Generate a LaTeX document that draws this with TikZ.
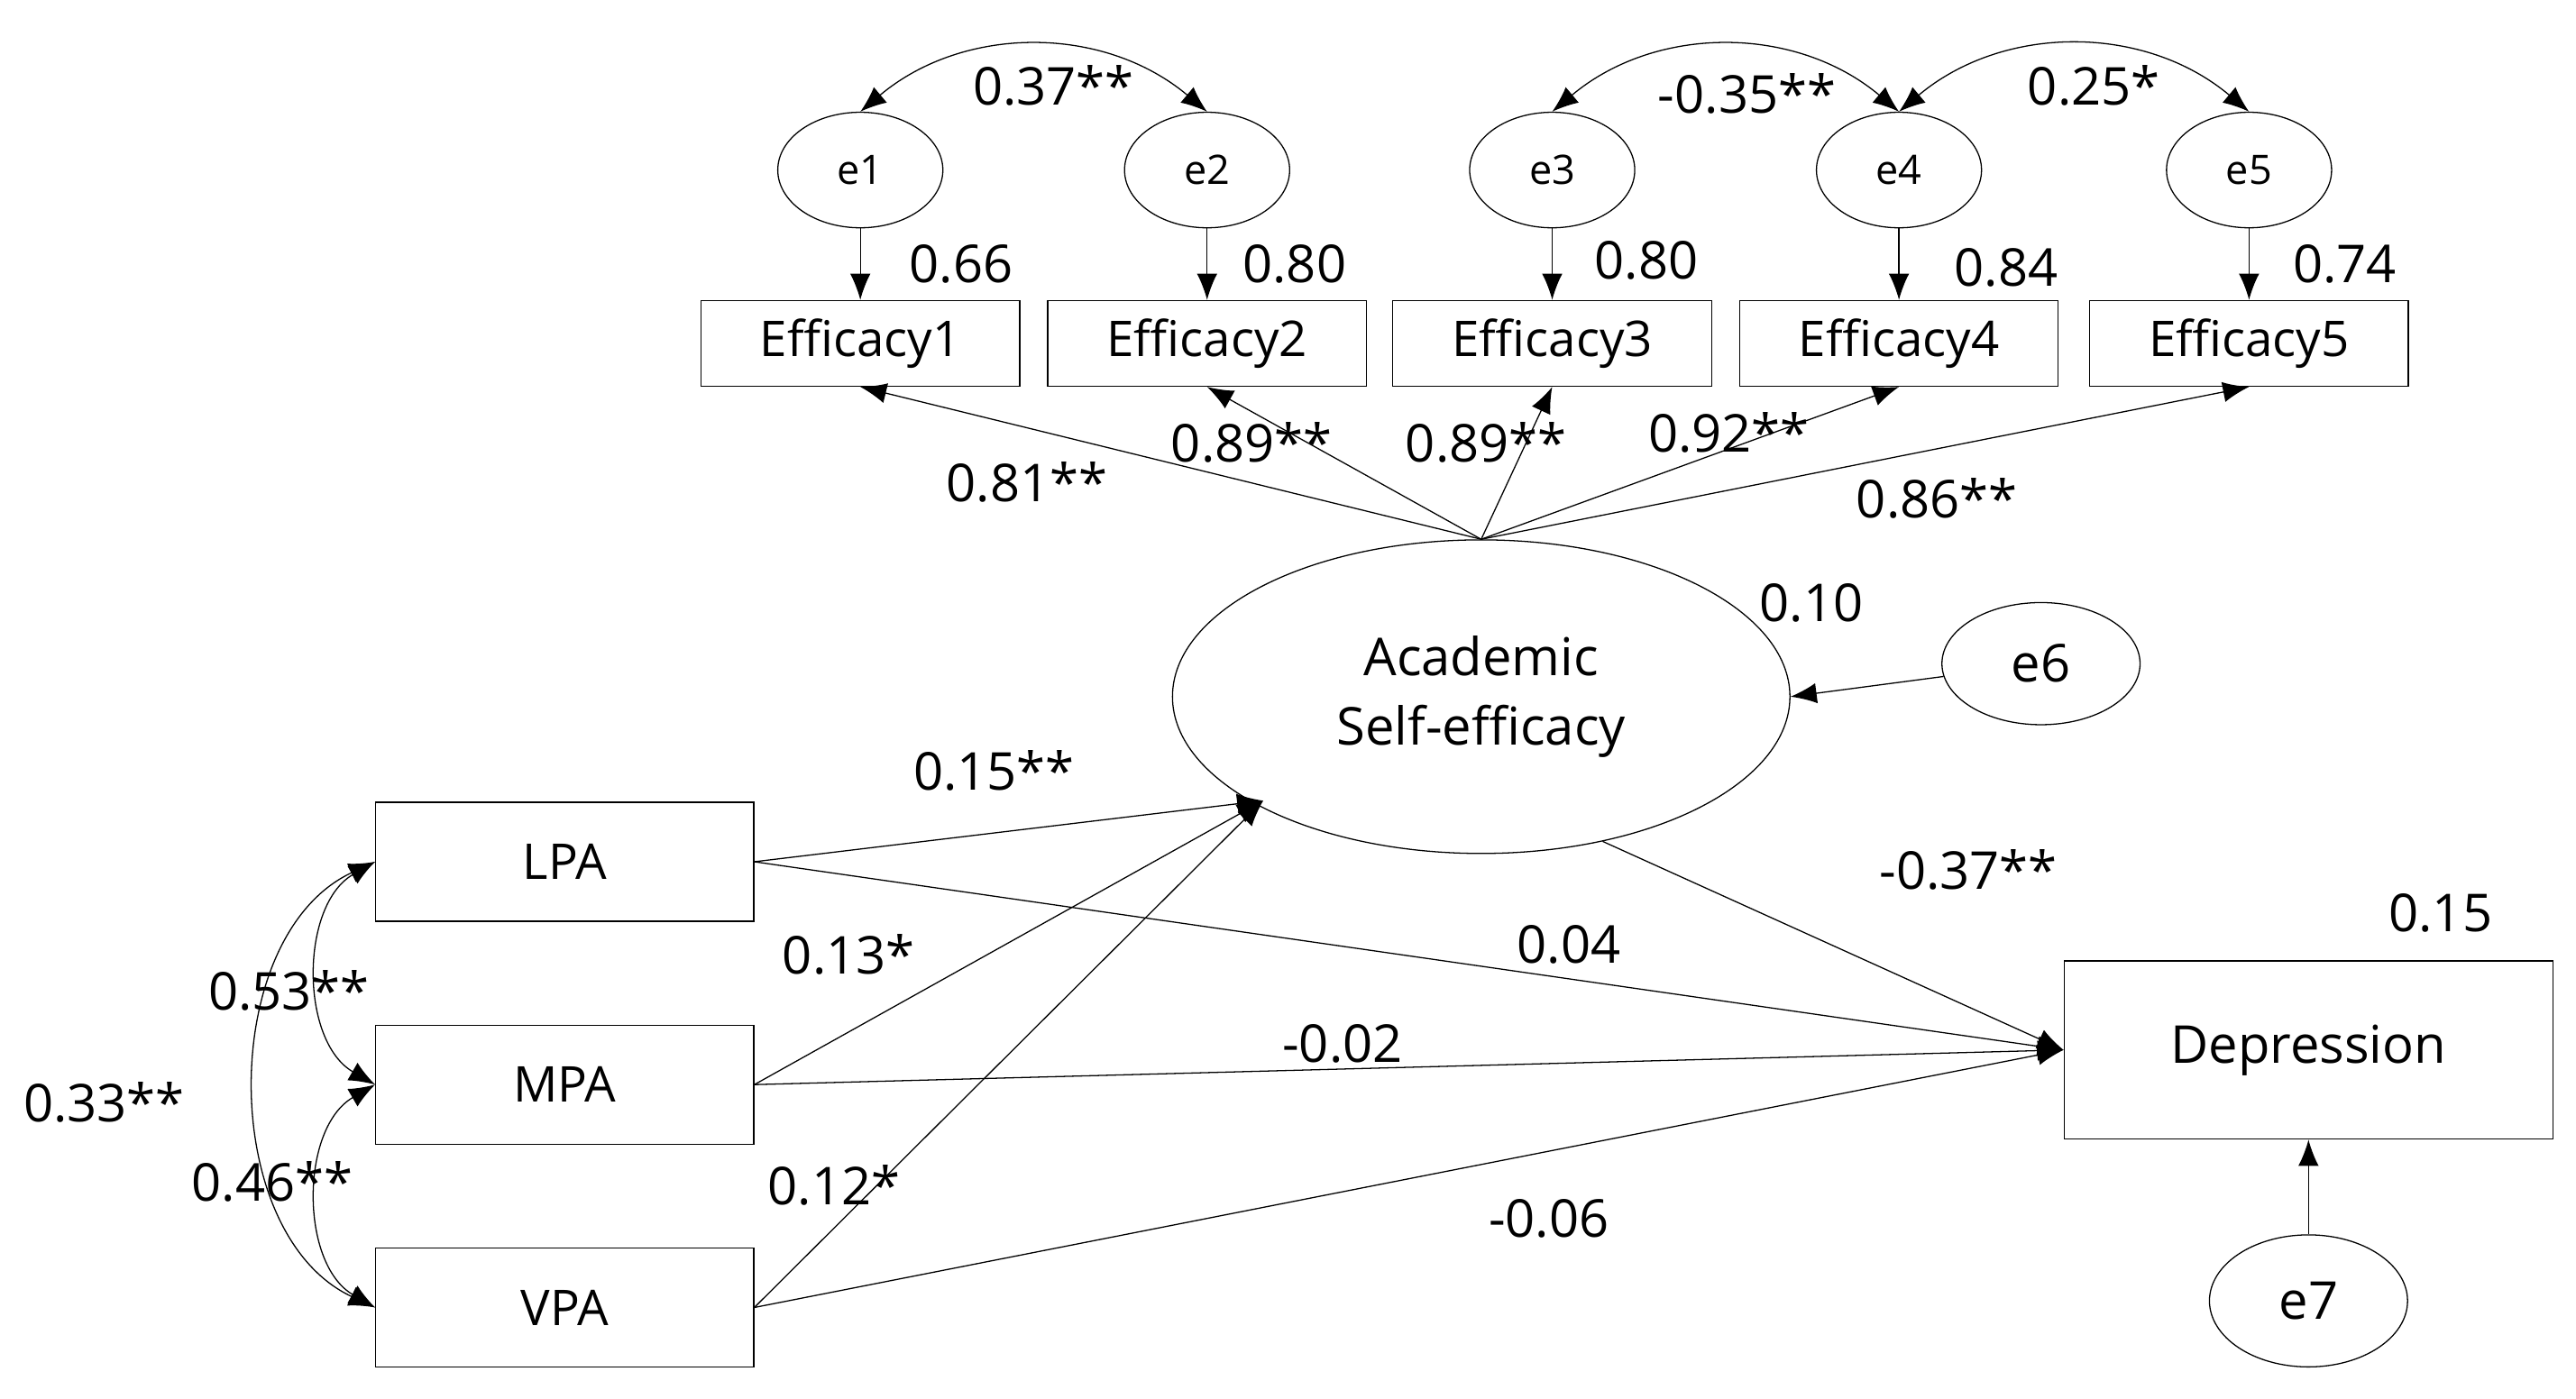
\documentclass[tikz,border=0pt]{standalone}
\usepackage{fontspec}
\setmainfont{Open Sans}
\usetikzlibrary{arrows.meta,shapes.geometric}
\tikzset{
  obs/.style={draw, rectangle, minimum width=3.86cm, minimum height=1.04cm, font=\fontsize{17}{20}\selectfont},
  err/.style={draw, ellipse, minimum width=2cm, minimum height=1.4cm, inner sep=0pt, font=\fontsize{14}{16}\selectfont},
  lab/.style={font=\fontsize{18}{20}\selectfont},
  path/.style={-{Latex[length=9pt,width=7pt]}, thin},
  cov/.style={{Latex[length=9pt,width=7pt]}-{Latex[length=9pt,width=7pt]}, thin}
}
\begin{document}
\begin{tikzpicture}[x=0.02cm,y=-0.02cm]
\useasboundingbox (0,0) rectangle (1560,847);
% indicators and their errors
\foreach \i/\x in {1/521,2/731,3/940,4/1150,5/1362}{
  \node[err] (e\i) at (\x,103) {e\i};
  \node[obs] (eff\i) at (\x,208) {Efficacy\i};
  \draw[path] (e\i) -- (eff\i);
}
\node[lab] at (582,160) {0.66};
\node[lab] at (784,160) {0.80};
\node[lab] at (997,158) {0.80};
\node[lab] at (1215,162) {0.84};
\node[lab] at (1420,160) {0.74};
\draw[cov] (e1.north) to[bend left=40] (e2.north);
\draw[cov] (e3.north) to[bend left=40] (e4.north);
\draw[cov] (e4.north) to[bend left=40] (e5.north);
\node[lab] at (638,52) {0.37**};
\node[lab] at (1058,57) {-0.35**};
\node[lab] at (1268,52) {0.25*};
% latent variable
\node[draw, ellipse, minimum width=7.48cm, minimum height=3.8cm, align=center, font=\fontsize{18}{24}\selectfont] (ase) at (897,422) {Academic\\Self-efficacy};
\foreach \i in {1,...,5}{ \draw[path] (ase.north) -- (eff\i.south); }
\node[lab] at (622,292) {0.81**};
\node[lab] at (758,268) {0.89**};
\node[lab] at (900,268) {0.89**};
\node[lab] at (1047,262) {0.92**};
\node[lab] at (1173,302) {0.86**};
\node[err, minimum width=2.4cm, minimum height=1.48cm, font=\fontsize{18}{20}\selectfont] (e6) at (1236,402) {e6};
\draw[path] (e6) -- (ase.east);
\node[lab] at (1097,365) {0.10};
% predictors
\node[obs, minimum width=4.58cm, minimum height=1.44cm] (lpa) at (342,522) {LPA};
\node[obs, minimum width=4.58cm, minimum height=1.44cm] (mpa) at (342,657) {MPA};
\node[obs, minimum width=4.58cm, minimum height=1.44cm] (vpa) at (342,792) {VPA};
\node[obs, minimum width=5.92cm, minimum height=2.16cm, font=\fontsize{18}{20}\selectfont] (dep) at (1398,636) {Depression};
\node[lab] at (1478,553) {0.15};
\node[err, minimum width=2.4cm, minimum height=1.6cm, font=\fontsize{18}{20}\selectfont] (e7) at (1398,788) {e7};
\draw[path] (e7) -- (dep);
\coordinate (tgt) at (765,485);
\draw[path] (lpa.east) -- (tgt);
\draw[path] (mpa.east) -- (tgt);
\draw[path] (vpa.east) -- (tgt);
\node[lab] at (602,467) {0.15**};
\node[lab] at (514,578) {0.13*};
\node[lab] at (505,718) {0.12*};
\draw[path] (ase.-50) -- (dep.west);
\node[lab] at (1192,527) {-0.37**};
\draw[path] (lpa.east) -- (dep.west);
\draw[path] (mpa.east) -- (dep.west);
\draw[path] (vpa.east) -- (dep.west);
\node[lab] at (950,572) {0.04};
\node[lab] at (813,632) {-0.02};
\node[lab] at (938,738) {-0.06};
% covariances among predictors
\draw[cov] (lpa.west) to[bend right=60] (mpa.west);
\draw[cov] (mpa.west) to[bend right=60] (vpa.west);
\draw[cov] (lpa.west) to[bend right=65] (vpa.west);
\node[lab] at (175,600) {0.53**};
\node[lab] at (165,716) {0.46**};
\node[lab] at (63,668) {0.33**};
\end{tikzpicture}
\end{document}
